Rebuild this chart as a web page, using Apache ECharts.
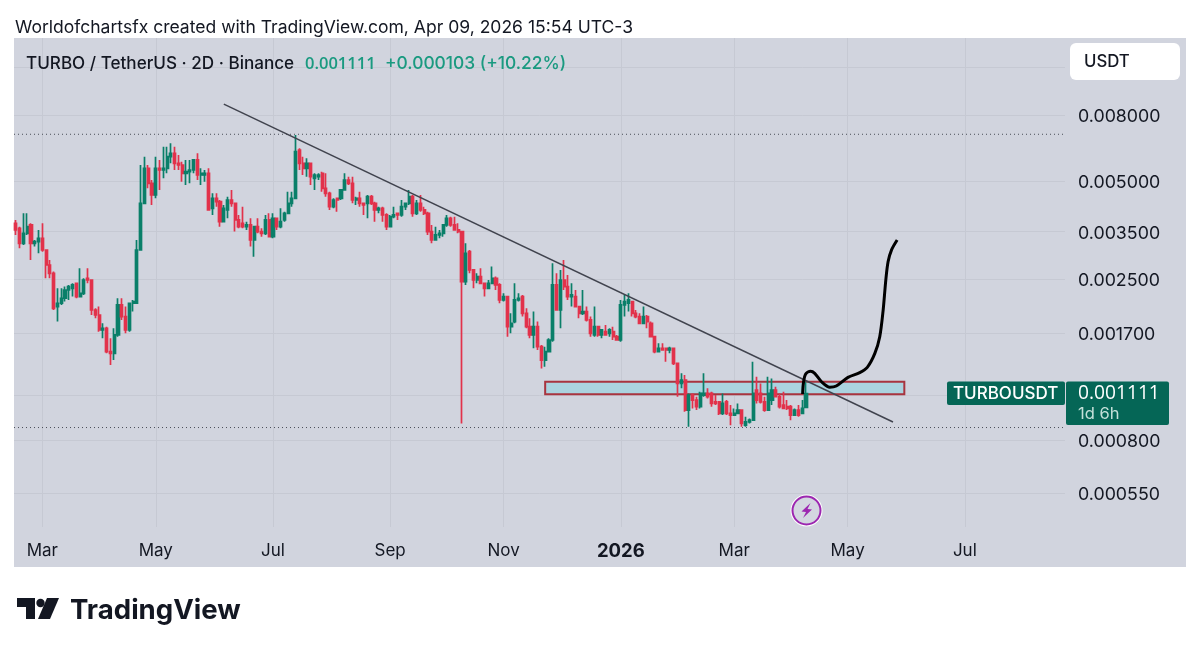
<!DOCTYPE html>
<html>
<head>
<meta charset="utf-8">
<title>TURBO / TetherUS</title>
<style>
html, body { margin: 0; padding: 0; background: #fff; }
#chart { width: 1200px; height: 652px; }
</style>
<script src="https://cdn.jsdelivr.net/npm/echarts@6/dist/echarts.min.js"></script>
</head>
<body>
<div id="chart"></div>
<script>
// 2D candles
const opens = [
0.003715,0.003586,0.003224,0.003461,0.003671,0.003224,0.003262,0.003340,0.003075,0.002765,
0.002607,0.002059,0.002108,0.002184,0.002316,0.002344,0.002428,0.002210,0.002262,0.002516,
0.002486,0.002010,0.001940,0.001745,0.001765,0.001496,0.001479,0.001684,0.002083,0.001918,
0.001745,0.002108,0.002108,0.003075,0.004280,0.005484,0.004931,0.004540,0.005484,0.005420,
0.005484,0.005956,0.006099,0.005682,0.005615,0.005293,0.005356,0.005420,0.005818,0.005231,
0.005231,0.005293,0.004131,0.004434,0.004331,0.003759,0.004083,0.004382,0.004280,0.003804,
0.003715,0.003628,0.003671,0.003301,0.003628,0.003502,0.003461,0.003804,0.003380,0.003849,
0.003628,0.003804,0.003987,0.004280,0.004434,0.006245,0.005682,0.005484,0.005682,0.005109,
0.005170,0.005293,0.004760,0.004594,0.004180,0.004434,0.004434,0.004704,0.005049,0.004931,
0.004382,0.004434,0.004280,0.004280,0.004487,0.004280,0.004083,0.004131,0.003941,0.003628,
0.003894,0.003987,0.003941,0.004180,0.004280,0.004487,0.003987,0.004280,0.004083,0.003987,
0.003502,0.003301,0.003420,0.003461,0.003671,0.003849,0.003671,0.003544,0.003502,0.002457,
0.003039,0.002669,0.002486,0.002546,0.002428,0.002344,0.002428,0.002516,0.002400,0.002158,
0.002210,0.001786,0.001851,0.002158,0.002210,0.001963,0.001786,0.001684,0.001786,0.001550,
0.001410,0.001496,0.001625,0.002400,0.002010,0.002486,0.002372,0.002210,0.002210,0.002059,
0.001963,0.001987,0.001873,0.001684,0.001786,0.001684,0.001724,0.001704,0.001724,0.001664,
0.001625,0.002083,0.002108,0.002133,0.001963,0.001918,0.001829,0.001918,0.001829,0.001664,
0.001496,0.001532,0.001532,0.001514,0.001532,0.001377,0.001195,0.001224,0.000989,0.001100,
0.001062,0.001013,0.001100,0.001113,0.001113,0.001049,0.001049,0.000966,0.001049,0.000966,
0.000955,0.000966,0.000989,0.000889,0.000910,0.000921,0.001140,0.001113,0.001049,0.000989,
0.001062,0.001140,0.001087,0.001025,0.001013,0.001013,0.000955,0.000989,0.000966,0.001008
];
const closes = [
0.003544,0.003224,0.003461,0.003628,0.003224,0.003262,0.003340,0.003075,0.002765,0.002607,
0.002034,0.002108,0.002184,0.002316,0.002372,0.002400,0.002210,0.002262,0.002486,0.002486,
0.002010,0.001940,0.001745,0.001765,0.001496,0.001479,0.001684,0.002083,0.001918,0.001745,
0.002108,0.002133,0.003075,0.004280,0.005484,0.004931,0.004540,0.005484,0.005420,0.005484,
0.005956,0.006099,0.005682,0.005615,0.005293,0.005356,0.005420,0.005818,0.005231,0.005293,
0.005293,0.004083,0.004434,0.004331,0.003759,0.004131,0.004382,0.004280,0.003804,0.003628,
0.003628,0.003671,0.003301,0.003628,0.003502,0.003461,0.003804,0.003380,0.003849,0.003628,
0.003759,0.003987,0.004280,0.004434,0.006171,0.005682,0.005484,0.005682,0.005170,0.005231,
0.005231,0.004760,0.004594,0.004180,0.004382,0.004382,0.004704,0.005049,0.004931,0.004382,
0.004434,0.004280,0.004230,0.004487,0.004280,0.004083,0.004131,0.003941,0.003628,0.003894,
0.003941,0.003941,0.004180,0.004280,0.004487,0.003987,0.004280,0.004083,0.003987,0.003502,
0.003301,0.003420,0.003461,0.003671,0.003849,0.003671,0.003544,0.003502,0.002457,0.003004,
0.002669,0.002486,0.002546,0.002428,0.002344,0.002428,0.002516,0.002400,0.002158,0.002210,
0.001786,0.001829,0.002158,0.002184,0.001963,0.001786,0.001684,0.001786,0.001550,0.001410,
0.001496,0.001625,0.002400,0.002010,0.002486,0.002372,0.002210,0.002236,0.002059,0.001963,
0.001987,0.001873,0.001704,0.001786,0.001684,0.001745,0.001684,0.001745,0.001664,0.001625,
0.002083,0.002133,0.002158,0.001963,0.001918,0.001829,0.001918,0.001851,0.001664,0.001496,
0.001532,0.001514,0.001514,0.001532,0.001377,0.001195,0.001224,0.000989,0.001100,0.001062,
0.001013,0.001113,0.001113,0.001087,0.001037,0.001037,0.000966,0.001037,0.000966,0.000955,
0.000966,0.000989,0.000900,0.000910,0.000921,0.001113,0.001062,0.001049,0.000989,0.001113,
0.001140,0.001087,0.001013,0.001001,0.001001,0.000955,0.000989,0.000955,0.001001,0.001111
];
const highs = [
0.003804,0.003628,0.003987,0.003987,0.003715,0.003301,0.003544,0.003715,0.003075,0.002865,
0.002638,0.002344,0.002344,0.002372,0.002400,0.002428,0.002428,0.002701,0.002516,0.002701,
0.002486,0.002034,0.002059,0.001829,0.001786,0.001645,0.001765,0.002184,0.002184,0.002059,
0.002108,0.002158,0.003301,0.005615,0.005956,0.005615,0.005049,0.005956,0.005818,0.006394,
0.006394,0.006546,0.006394,0.006027,0.005749,0.005818,0.005818,0.005818,0.006099,0.005484,
0.005420,0.005484,0.004594,0.004594,0.004382,0.004230,0.004487,0.004704,0.004280,0.003941,
0.004180,0.003759,0.003849,0.003628,0.003849,0.003586,0.003941,0.003987,0.003987,0.003849,
0.004131,0.004035,0.004649,0.004649,0.006944,0.006319,0.005956,0.005887,0.005682,0.005293,
0.005293,0.005356,0.005293,0.004649,0.004434,0.004434,0.004704,0.005293,0.005170,0.005170,
0.004487,0.004649,0.004280,0.004540,0.004540,0.004331,0.004180,0.004180,0.003987,0.003941,
0.004180,0.003987,0.004382,0.004280,0.004704,0.004540,0.004382,0.004540,0.004180,0.004035,
0.003671,0.003628,0.003544,0.003671,0.003941,0.003894,0.003894,0.003715,0.003502,0.003224,
0.003075,0.002669,0.002607,0.002701,0.002428,0.002486,0.002733,0.002546,0.002428,0.002262,
0.002210,0.001963,0.002428,0.002262,0.002236,0.002034,0.001895,0.001987,0.001851,0.001569,
0.001550,0.001645,0.002798,0.002607,0.002669,0.002865,0.002576,0.002428,0.002316,0.002059,
0.002316,0.002059,0.001918,0.002059,0.001786,0.001745,0.001808,0.001765,0.001786,0.001684,
0.002158,0.002236,0.002262,0.002133,0.002010,0.001963,0.002059,0.001940,0.001851,0.001664,
0.001587,0.001587,0.001532,0.001550,0.001532,0.001377,0.001283,0.001268,0.001113,0.001113,
0.001087,0.001127,0.001283,0.001154,0.001127,0.001100,0.001049,0.001113,0.001062,0.001025,
0.001001,0.001037,0.000989,0.000943,0.000932,0.001394,0.001253,0.001195,0.001087,0.001253,
0.001238,0.001167,0.001113,0.001127,0.001062,0.001025,0.001001,0.001025,0.001062,0.001209
];
const lows = [
0.003420,0.003112,0.003186,0.003420,0.002865,0.003149,0.003004,0.003039,0.002516,0.002516,
0.002010,0.001851,0.002083,0.002133,0.002158,0.002210,0.002184,0.002210,0.002236,0.002428,
0.001940,0.001895,0.001724,0.001645,0.001479,0.001361,0.001410,0.001664,0.001873,0.001704,
0.001724,0.001987,0.002108,0.003075,0.004280,0.004760,0.004230,0.004434,0.004704,0.005109,
0.005293,0.005682,0.005420,0.005420,0.004990,0.004873,0.004931,0.005293,0.005049,0.004873,
0.004990,0.004083,0.003941,0.004180,0.003628,0.003759,0.003849,0.004180,0.003502,0.003586,
0.003586,0.003544,0.003149,0.002933,0.003461,0.003380,0.003420,0.003380,0.003340,0.003544,
0.003586,0.003759,0.003987,0.004180,0.004434,0.005420,0.005231,0.005170,0.004873,0.004704,
0.005049,0.004649,0.004487,0.004083,0.004131,0.004035,0.004382,0.004704,0.004873,0.004280,
0.004230,0.004180,0.003941,0.003849,0.004230,0.003759,0.003987,0.003759,0.003544,0.003628,
0.003849,0.003804,0.003894,0.004083,0.004230,0.003894,0.003941,0.004035,0.003941,0.003420,
0.003224,0.003301,0.003340,0.003380,0.003628,0.003628,0.003544,0.003461,0.000900,0.002400,
0.002607,0.002344,0.002428,0.002428,0.002210,0.002344,0.002428,0.002316,0.002108,0.002133,
0.001664,0.001704,0.001829,0.002133,0.001918,0.001765,0.001645,0.001532,0.001514,0.001329,
0.001345,0.001496,0.001606,0.002010,0.001765,0.002316,0.002158,0.002059,0.002059,0.001895,
0.001940,0.001851,0.001664,0.001664,0.001664,0.001645,0.001684,0.001664,0.001625,0.001615,
0.001606,0.001918,0.001987,0.001918,0.001895,0.001829,0.001829,0.001765,0.001664,0.001479,
0.001496,0.001514,0.001394,0.001479,0.001361,0.001087,0.001154,0.000977,0.000879,0.001001,
0.000989,0.001001,0.001087,0.001074,0.001013,0.001025,0.000955,0.000955,0.000955,0.000889,
0.000955,0.000966,0.000879,0.000879,0.000900,0.000921,0.001037,0.001037,0.000977,0.000989,
0.001025,0.001087,0.001001,0.001001,0.000989,0.000921,0.000955,0.000943,0.000966,0.001013
];

// y axis ticks (two of them sit under the USDT box and the price tag)
const priceTicks = [0.0112, 0.008, 0.005, 0.0035, 0.0025, 0.0017, 0.0011, 0.0008, 0.00055];
const priceLabels = [0.008, 0.005, 0.0035, 0.0025, 0.0017, 0.0008, 0.00055];

// month ticks
const tickDates = ['2025-03-01','2025-04-30','2025-07-01','2025-09-01','2025-10-31','2026-01-01','2026-03-02','2026-05-01','2026-07-02'];
const tickLabels = ['Mar','May','Jul','Sep','Nov','{year|2026}','Mar','May','Jul'];

// drawings, x is in candle slots
const levelPrices = [0.00698, 0.000874];
const trendSlots = [55, 232];
const trendPrices = [0.00864, 0.000909];
const zoneSlots = [140, 235];
const zonePrices = [0.001209, 0.001106];
const curveSlots = [208.1, 208.3, 208.9, 210.2, 211.3, 213.1, 215.3, 217.0, 220.1, 223.2, 225.2, 227.2, 228.5, 229.4, 230.1, 230.7, 231.6, 233.1];
const curvePrices = [0.001108, 0.001196, 0.001277, 0.001302, 0.001283, 0.001209, 0.001163, 0.001173, 0.001247, 0.001289, 0.001339, 0.001478, 0.001663, 0.002009, 0.002485, 0.00283, 0.003073, 0.003299];

const slotCount = 278;
const dates = [];
for (let i = 0; i < slotCount; i++) {
    dates.push(new Date(Date.UTC(2025, 1, 15 + i * 2)).toISOString().slice(0, 10));
}
const candles = opens.map((o, i) => [o, closes[i], lows[i], highs[i]]);

const uiFont = 'Inter, "Noto Sans", sans-serif';
const isMonthTick = (idx, value) => tickDates.includes(value);

function label(x, y, text, size, color, weight, family) {
    return {
        type: 'text', x: x, y: y, z: 20,
        style: { text: text, fill: color, font: (weight || 400) + ' ' + size + 'px ' + (family || uiFont), textVerticalAlign: 'middle' }
    };
}

function levelLine(price) {
    return {
        type: 'line',
        xAxisIndex: 1,
        data: [[-0.5, price], [slotCount - 0.5, price]],
        showSymbol: false,
        silent: true,
        z: 1,
        lineStyle: { color: '#4a4d57', type: [1, 3], width: 1 }
    };
}

const chart = echarts.init(document.getElementById('chart'));
chart.setOption({
    animation: false,
    backgroundColor: '#ffffff',
    textStyle: { fontFamily: uiFont },
    grid: { left: 14, top: 38, width: 1051, height: 489 },
    xAxis: [
        {
            type: 'category',
            data: dates,
            boundaryGap: true,
            axisLine: { show: false },
            axisTick: { show: false },
            axisLabel: {
                interval: isMonthTick,
                margin: 15,
                fontSize: 17,
                color: '#131722',
                formatter: v => tickLabels[tickDates.indexOf(v)],
                rich: { year: { fontSize: 18.5, fontWeight: 700, color: '#131722' } }
            },
            splitLine: { show: true, alignWithLabel: true, interval: isMonthTick, lineStyle: { color: '#c6c9d3', width: 1 } }
        },
        { type: 'value', min: -0.5, max: slotCount - 0.5, show: false }
    ],
    yAxis: {
        type: 'log',
        position: 'right',
        min: 0.000432,
        max: 0.013806,
        axisLine: { show: false },
        axisTick: { show: false, customValues: priceTicks },
        axisLabel: {
            customValues: priceLabels,
            margin: 13,
            formatter: v => '{price|' + Number(v).toFixed(6) + '}',
            rich: { price: { fontSize: 17.8, color: '#131722', padding: [3, 0, 0, 0] } }
        },
        splitLine: { show: true, lineStyle: { color: '#c6c9d3', width: 1 } }
    },
    series: [
        {
            type: 'candlestick',
            data: candles,
            barWidth: 2.6,
            itemStyle: { color: '#0a7f69', color0: '#e2324b', borderColor: '#0a7f69', borderColor0: '#e2324b', borderWidth: 1.7 },
            markArea: {
                silent: true,
                itemStyle: { color: '#abd3df', borderColor: '#a8343f', borderWidth: 2 },
                data: [[
                    { xAxis: zoneSlots[0], yAxis: zonePrices[0] },
                    { xAxis: zoneSlots[1], yAxis: zonePrices[1] }
                ]]
            }
        },
        levelLine(levelPrices[0]),
        levelLine(levelPrices[1]),
        {
            type: 'line',
            xAxisIndex: 1,
            data: trendSlots.map((s, i) => [s, trendPrices[i]]),
            showSymbol: false,
            z: 3,
            lineStyle: { color: '#40434e', width: 1.5 }
        },
        {
            type: 'line',
            xAxisIndex: 1,
            data: curveSlots.map((s, i) => [s, curvePrices[i]]),
            showSymbol: false,
            smooth: 0.3,
            z: 4,
            lineStyle: { color: '#000000', width: 3 }
        }
    ],
    graphic: [
        { type: 'rect', z: -10, shape: { x: 14, y: 38, width: 1172, height: 529 }, style: { fill: '#d1d4de' } },
        label(15, 28, 'Worldofchartsfx created with TradingView.com, Apr 09, 2026 15:54 UTC-3', 17.55, '#131722'),
        label(26, 64, 'TURBO / TetherUS · 2D · Binance', 17.1, '#131722', 500),
        label(305, 64, '0.001111', 16.5, '#1a9a80', 600, '"Open Sans"'),
        label(385, 64, '+0.000103 (+10.22%)', 17.4, '#1a9a80', 500),
        { type: 'rect', z: 20, shape: { x: 1070, y: 43, width: 110, height: 37, r: 6 }, style: { fill: '#ffffff' } },
        label(1084, 62, 'USDT', 16.8, '#131722', 500),
        { type: 'rect', z: 20, shape: { x: 947, y: 381.5, width: 118, height: 23.5, r: 2 }, style: { fill: '#056656' } },
        label(953, 394, 'TURBOUSDT', 17, '#ffffff', 500),
        { type: 'rect', z: 20, shape: { x: 1066, y: 381.5, width: 103, height: 43.5, r: 2 }, style: { fill: '#056656' } },
        label(1078, 394, '0.001111', 19.2, '#ffffff', 400, '"Open Sans"'),
        label(1078, 414, '1d 6h', 16.5, '#c4e0d9'),
        { type: 'circle', z: 20, shape: { cx: 806.5, cy: 510.5, r: 15 }, style: { fill: '#d3d6e0', stroke: '#ffffff', lineWidth: 2 } },
        { type: 'circle', z: 21, shape: { cx: 806.5, cy: 510.5, r: 14 }, style: { fill: 'none', stroke: '#9c27b0', lineWidth: 2 } },
        { type: 'polygon', z: 21, shape: { points: [[810.5, 503], [801.5, 511.5], [806, 512], [803, 518], [812, 509.5], [807.5, 509]] }, style: { fill: '#9c27b0' } },
        { type: 'polygon', z: 20, shape: { points: [[17, 598], [35, 598], [35, 619], [26, 619], [26, 607], [17, 607]] }, style: { fill: '#131722' } },
        { type: 'circle', z: 20, shape: { cx: 40.5, cy: 603, r: 4.2 }, style: { fill: '#131722' } },
        { type: 'polygon', z: 20, shape: { points: [[47, 598], [59, 598], [50, 619], [38, 619]] }, style: { fill: '#131722' } },
        label(70, 611, 'TradingView', 27.6, '#131722', 700)
    ]
});
</script>
</body>
</html>
